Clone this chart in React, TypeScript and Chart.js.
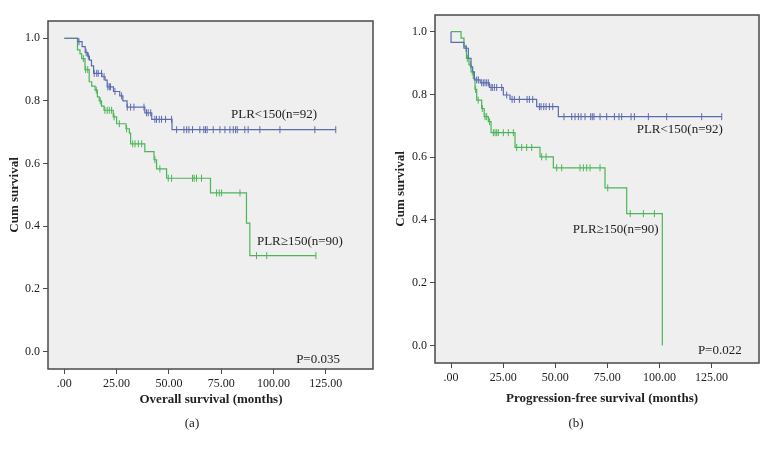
import React, { useEffect, useRef } from "react";
import { Chart, registerables } from "chart.js";

Chart.register(...registerables);

// ---------- Data ----------
const xTickValues = [0, 25, 50, 75, 100, 125];
const yTickValues = [0, 0.2, 0.4, 0.6, 0.8, 1.0];

// Overall survival, PLR<150
const osLowTime = [0, 6.5, 8.5, 10, 11, 12, 13, 14, 18, 19.5, 20.5, 23.5, 26.5, 28, 30, 38.5, 41.8, 51.5, 129.8];
const osLowSurv = [1.0, 0.989, 0.973, 0.955, 0.943, 0.93, 0.912, 0.888, 0.877, 0.866, 0.845, 0.83, 0.816, 0.8, 0.78, 0.762, 0.741, 0.708, 0.708];
const osLowCens = [7.0, 10.4, 11.5, 14.3, 15.5, 16.2, 17.8, 19.0, 20.8, 21.5, 22.1, 24.2, 27.4, 30.1, 31.7, 33.3, 38.1, 39.3, 40.1, 41.3, 43.3, 44.1, 45.4, 46.5, 48.4, 51.3, 53.7, 57.2, 58.5, 59.6, 61.3, 64.8, 66.7, 67.5, 68.3, 71.2, 74.4, 76.8, 79.2, 80.8, 81.9, 82.7, 86.3, 87.9, 93.5, 103.1, 119.8, 129.8];

// Overall survival, PLR>=150
const osHighTime = [0, 6.3, 7.5, 8.3, 9.9, 11.9, 13.1, 14.7, 15.8, 16.7, 17.8, 19.0, 23.4, 25.0, 29.5, 31.1, 31.7, 38.5, 42.9, 44.1, 48.9, 69.9, 87.1, 88.7, 120.3];
const osHighSurv = [1.0, 0.963, 0.95, 0.935, 0.9, 0.861, 0.847, 0.834, 0.813, 0.8, 0.783, 0.77, 0.749, 0.727, 0.711, 0.697, 0.663, 0.638, 0.612, 0.583, 0.553, 0.506, 0.41, 0.306, 0.306];
const osHighCens = [9.1, 10.2, 11.2, 15.3, 17.2, 19.4, 20.5, 21.5, 22.6, 23.8, 26.3, 29.8, 32.7, 33.8, 35.4, 37.0, 43.3, 45.7, 49.7, 51.3, 61.3, 62.1, 63.2, 65.6, 72.8, 74.1, 75.2, 84.0, 91.9, 96.8, 120.3];

// Progression-free survival, PLR<150
const pfsLowTime = [0, 0, 6.2, 8.3, 9.6, 10.4, 11.2, 14.0, 18.4, 25.1, 28.3, 41.1, 51.5, 129.9];
const pfsLowSurv = [1.0, 0.966, 0.947, 0.915, 0.888, 0.872, 0.846, 0.837, 0.822, 0.798, 0.784, 0.761, 0.729, 0.729];
const pfsLowCens = [7.2, 12.3, 13.1, 14.7, 15.5, 16.3, 17.1, 17.9, 19.2, 19.8, 20.8, 21.9, 24.3, 26.7, 29.3, 30.4, 32.8, 36.5, 37.6, 39.2, 42.4, 43.2, 44.5, 45.6, 47.2, 48.8, 54.2, 57.9, 59.5, 61.1, 62.4, 64.3, 67.0, 67.8, 68.6, 71.5, 74.7, 78.4, 80.6, 81.9, 86.4, 88.0, 94.7, 103.5, 120.3, 129.9];

// Progression-free survival, PLR>=150
const pfsHighTime = [0, 4.8, 6.2, 7.4, 8.6, 9.6, 10.7, 11.5, 12.3, 14.7, 15.9, 17.9, 19.2, 30.7, 42.7, 49.1, 73.9, 84.3, 101.4];
const pfsHighSurv = [1.0, 0.979, 0.952, 0.915, 0.894, 0.872, 0.851, 0.816, 0.782, 0.755, 0.729, 0.713, 0.678, 0.631, 0.601, 0.566, 0.502, 0.42, 0.0];
const pfsHighCens = [7.8, 9.3, 10.2, 11.8, 13.0, 15.0, 16.3, 17.1, 18.5, 20.3, 21.1, 21.9, 22.7, 25.1, 27.5, 29.9, 31.5, 33.9, 36.3, 38.7, 43.5, 45.6, 50.7, 53.1, 61.9, 63.5, 65.1, 66.7, 71.5, 75.2, 86.0, 92.3, 97.6];

const groupLabels = ["PLR<150(n=92)", "PLR≥150(n=90)"];

// ---------- Styling ----------
const BLUE = "#5a6cae";
const GREEN = "#4cb558";
const PLOT_BG = "#efefef";
const FRAME = "#4a4a4a";
const TEXT = "#222222";
const SERIF = "'Liberation Serif', 'DejaVu Serif', serif";

function stepPoints(times: number[], survs: number[]) {
  return times.map((t, i) => ({ x: t, y: survs[i] }));
}
function censorPoints(times: number[], survs: number[], cens: number[]) {
  return cens.map((c) => {
    let s = survs[0];
    for (let i = 0; i < times.length; i++) if (times[i] <= c) s = survs[i];
    return { x: c, y: s };
  });
}

type Note = { text: string; x: number; y: number; align: CanvasTextAlign };
type Panel = {
  width: number;
  left: number;
  padTop: number;
  padRight: number;
  yWidth: number;
  xHeight: number;
  xMin: number;
  xMax: number;
  yMin: number;
  yMax: number;
  xTitle: string;
  xTitlePos: [number, number];
  yTitlePos: [number, number];
  sub: string;
  subPos: [number, number];
  notes: Note[];
  low: [number[], number[], number[]];
  high: [number[], number[], number[]];
};

const panels: Panel[] = [
  {
    width: 385,
    left: 0,
    padTop: 21,
    padRight: 12,
    yWidth: 48,
    xHeight: 81,
    xMin: -7.8,
    xMax: 147.6,
    yMin: -0.056,
    yMax: 1.055,
    xTitle: "Overall survival (months)",
    xTitlePos: [211, 400],
    yTitlePos: [15, 195],
    sub: "(a)",
    subPos: [192, 424],
    notes: [
      { text: groupLabels[0], x: 79.7, y: 0.755, align: "left" },
      { text: groupLabels[1], x: 92.1, y: 0.351, align: "left" },
      { text: "P=0.035", x: 131.8, y: -0.027, align: "right" },
    ],
    low: [osLowTime, osLowSurv, osLowCens],
    high: [osHighTime, osHighSurv, osHighCens],
  },
  {
    width: 384,
    left: 385,
    padTop: 15,
    padRight: 10,
    yWidth: 50,
    xHeight: 87,
    xMin: -7.7,
    xMax: 147.8,
    yMin: -0.056,
    yMax: 1.053,
    xTitle: "Progression-free survival (months)",
    xTitlePos: [217, 399],
    yTitlePos: [16, 189],
    sub: "(b)",
    subPos: [191, 424],
    notes: [
      { text: groupLabels[0], x: 89.1, y: 0.687, align: "left" },
      { text: groupLabels[1], x: 58.4, y: 0.368, align: "left" },
      { text: "P=0.022", x: 139.5, y: -0.018, align: "right" },
    ],
    low: [pfsLowTime, pfsLowSurv, pfsLowCens],
    high: [pfsHighTime, pfsHighSurv, pfsHighCens],
  },
];

function KMChart({ p }: { p: Panel }) {
  const ref = useRef<HTMLCanvasElement | null>(null);
  useEffect(() => {
    if (!ref.current) return;
    const frame = {
      id: "frame",
      beforeDraw(chart: any) {
        const { ctx, chartArea: a } = chart;
        ctx.save();
        ctx.fillStyle = PLOT_BG;
        ctx.fillRect(a.left, a.top, a.right - a.left, a.bottom - a.top);
        ctx.restore();
      },
      afterDraw(chart: any) {
        const { ctx, chartArea: a, scales } = chart;
        ctx.save();
        ctx.strokeStyle = FRAME;
        ctx.lineWidth = 1.5;
        ctx.strokeRect(a.left, a.top, a.right - a.left, a.bottom - a.top);
        ctx.fillStyle = TEXT;
        ctx.textBaseline = "middle";
        ctx.font = `13px ${SERIF}`;
        for (const n of p.notes) {
          ctx.textAlign = n.align;
          ctx.fillText(n.text, scales.x.getPixelForValue(n.x), scales.y.getPixelForValue(n.y));
        }
        ctx.textAlign = "center";
        ctx.fillText(p.sub, p.subPos[0], p.subPos[1]);
        ctx.font = `bold 13px ${SERIF}`;
        ctx.fillText(p.xTitle, p.xTitlePos[0], p.xTitlePos[1]);
        ctx.translate(p.yTitlePos[0], p.yTitlePos[1]);
        ctx.rotate(-Math.PI / 2);
        ctx.fillText("Cum survival", 0, 0);
        ctx.restore();
      },
    };
    const lineDs = (d: [number[], number[], number[]], color: string) => ({
      data: stepPoints(d[0], d[1]),
      borderColor: color,
      borderWidth: 1.2,
      stepped: "before" as const,
      pointRadius: 0,
      fill: false,
    });
    const censDs = (d: [number[], number[], number[]], color: string) => ({
      data: censorPoints(d[0], d[1], d[2]),
      showLine: false,
      borderColor: color,
      backgroundColor: color,
      pointStyle: "line" as const,
      pointRotation: 90,
      pointRadius: 3.5,
      pointBorderWidth: 1,
    });
    const chart = new Chart(ref.current, {
      type: "line",
      data: {
        datasets: [
          lineDs(p.low, BLUE),
          censDs(p.low, BLUE),
          lineDs(p.high, GREEN),
          censDs(p.high, GREEN),
        ] as any,
      },
      plugins: [frame],
      options: {
        animation: false,
        responsive: false,
        devicePixelRatio: 1,
        layout: { padding: { top: p.padTop, right: p.padRight, left: 0, bottom: 0 } },
        plugins: { legend: { display: false }, tooltip: { enabled: false } },
        scales: {
          x: {
            type: "linear",
            min: p.xMin,
            max: p.xMax,
            afterFit: (s: any) => {
              s.height = p.xHeight;
            },
            afterBuildTicks: (s: any) => {
              s.ticks = xTickValues.map((v) => ({ value: v }));
            },
            ticks: {
              color: TEXT,
              font: { family: SERIF, size: 12 },
              padding: 3,
              maxRotation: 0,
              autoSkip: false,
              callback: (v: any) => (Number(v) === 0 ? ".00" : Number(v).toFixed(2)),
            },
            grid: { drawOnChartArea: false, drawTicks: true, tickLength: 5, color: FRAME, lineWidth: 1 },
            border: { display: false },
          },
          y: {
            type: "linear",
            min: p.yMin,
            max: p.yMax,
            afterFit: (s: any) => {
              s.width = p.yWidth;
            },
            afterBuildTicks: (s: any) => {
              s.ticks = yTickValues.map((v) => ({ value: v }));
            },
            ticks: {
              color: TEXT,
              font: { family: SERIF, size: 12 },
              padding: 3,
              autoSkip: false,
              callback: (v: any) => Number(v).toFixed(1),
            },
            grid: { drawOnChartArea: false, drawTicks: true, tickLength: 5, color: FRAME, lineWidth: 1 },
            border: { display: false },
          },
        },
      } as any,
    });
    return () => chart.destroy();
  }, [p]);
  return (
    <canvas
      ref={ref}
      width={p.width}
      height={450}
      style={{ position: "absolute", left: p.left, top: 0, width: p.width, height: 450 }}
    />
  );
}

export default function App() {
  return (
    <div style={{ position: "absolute", left: 0, top: 0, width: 769, height: 450, background: "#ffffff", overflow: "hidden" }}>
      {panels.map((p, i) => (
        <KMChart key={i} p={p} />
      ))}
    </div>
  );
}
